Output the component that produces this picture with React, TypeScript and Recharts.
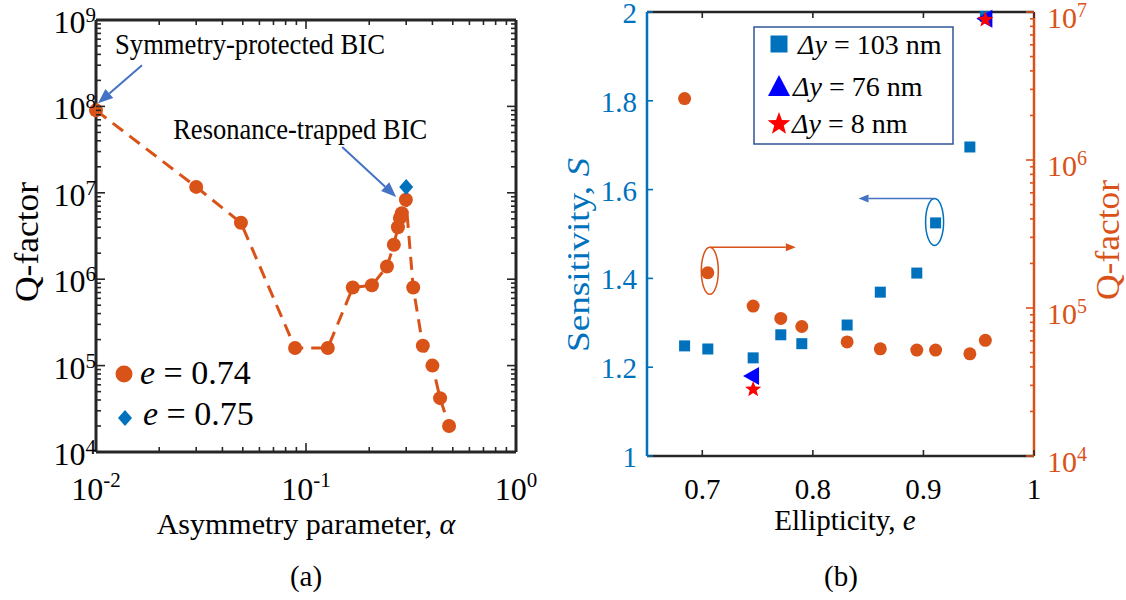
import React from "react";
import { ComposedChart, Line, Scatter, XAxis, YAxis, ReferenceDot } from "recharts";

const FONT = "'Liberation Serif', 'Times New Roman', Times, serif";
const ORANGE = "#D95319";
const BLUE = "#0072BD";
const PURE_BLUE = "#0000FF";
const RED = "#FF0000";
const ARROW_BLUE = "#4472C4";
const AXIS = "#262626";

// panel (a): Q-factor vs asymmetry parameter
const alpha074 = [0.01, 0.03, 0.049, 0.0887, 0.127, 0.167, 0.206, 0.243, 0.262, 0.274, 0.28, 0.286, 0.299, 0.324, 0.36, 0.4, 0.435, 0.48];
const q074 = [9e7, 1.17e7, 4.5e6, 1.6e5, 1.6e5, 8e5, 8.5e5, 1.4e6, 2.5e6, 4e6, 5.1e6, 5.8e6, 8.3e6, 8e5, 1.7e5, 1e5, 4.2e4, 2e4];
const alpha075 = [0.3];
const q075 = [1.17e7];

const aXMajor = [0.01, 0.1, 1];
const aYMajor = [1e4, 1e5, 1e6, 1e7, 1e8, 1e9];

// panel (b): sensitivity and Q-factor vs ellipticity
const eDy103 = [0.684, 0.705, 0.746, 0.771, 0.79, 0.831, 0.861, 0.894, 0.911, 0.942, 0.956];
const sDy103 = [1.248, 1.241, 1.221, 1.273, 1.253, 1.295, 1.369, 1.412, 1.525, 1.696, 1.99];
const eDy76 = [0.745, 0.956];
const sDy76 = [1.18, 1.985];
const eDy8 = [0.746, 0.956];
const sDy8 = [1.15, 1.983];
const eQ = [0.684, 0.705, 0.746, 0.771, 0.79, 0.831, 0.861, 0.894, 0.911, 0.942, 0.956];
const qB = [2.6e6, 1.73e5, 1.03e5, 8.5e4, 7.5e4, 5.9e4, 5.3e4, 5.2e4, 5.2e4, 4.9e4, 6.05e4];

const bXMajor = [0.7, 0.8, 0.9, 1];
const bSMajor = [1, 1.2, 1.4, 1.6, 1.8, 2];
const bQMajor = [1e4, 1e5, 1e6, 1e7];

const zip = (xs: number[], ys: number[]) => xs.map((x, i) => ({ x, y: ys[i] }));

// log axes get minor ticks at 2..9 of every decade
function withMinor(majors: number[]) {
  const out: number[] = [];
  majors.forEach((m, i) => {
    out.push(m);
    if (i < majors.length - 1) for (let k = 2; k <= 9; k++) out.push(+(m * k).toPrecision(6));
  });
  return out;
}

const isMajor = (v: number, majors: number[]) =>
  majors.some((m) => Math.abs(v - m) <= Math.abs(m) * 1e-6);
const pow10 = (v: number) => Math.round(Math.log10(v));

type Side = "bottom" | "top" | "left" | "right";
type LabelFn = (v: number, x: number, y: number) => React.ReactNode;

function tickRenderer(side: Side, majors: number[], color: string, majorLen: number, minorLen: number, label?: LabelFn) {
  return (props: any) => {
    const { x, y, payload } = props;
    const v = payload.value;
    const major = isMajor(v, majors);
    const len = major ? majorLen : minorLen;
    const dx = side === "left" ? len : side === "right" ? -len : 0;
    const dy = side === "bottom" ? -len : side === "top" ? len : 0;
    return (
      <g>
        <line x1={x} y1={y} x2={x + dx} y2={y + dy} stroke={color} strokeWidth={1.6} />
        {major && label ? label(v, x, y) : null}
      </g>
    );
  };
}

const aBottomLabel: LabelFn = (v, x, y) => (
  <text x={x} y={y + 48} textAnchor="middle" fontFamily={FONT} fontSize={32} fill="#000">
    10<tspan dy={-13} fontSize={21}>{pow10(v)}</tspan>
  </text>
);
const aLeftLabel: LabelFn = (v, x, y) => (
  <text x={x} y={y + 13} textAnchor="end" fontFamily={FONT} fontSize={32} fill="#000">
    10<tspan dy={-11} fontSize={21}>{pow10(v)}</tspan>
  </text>
);
const bBottomLabel: LabelFn = (v, x, y) => (
  <text x={x} y={y + 43} textAnchor="middle" fontFamily={FONT} fontSize={29} fill="#000">
    {String(v)}
  </text>
);
const bLeftLabel: LabelFn = (v, x, y) => (
  <text x={x - 10} y={y + 11} textAnchor="end" fontFamily={FONT} fontSize={29} fill={BLUE}>
    {String(v)}
  </text>
);
const bRightLabel: LabelFn = (v, x, y) => (
  <text x={x + 13} y={y + 16} textAnchor="start" fontFamily={FONT} fontSize={30} fill={ORANGE}>
    10<tspan dy={-11} fontSize={20}>{pow10(v)}</tspan>
  </text>
);

function Arrow({ x1, y1, x2, y2, color, head, width, sw }: any) {
  const a = Math.atan2(y2 - y1, x2 - x1);
  const bx = x2 - head * Math.cos(a);
  const by = y2 - head * Math.sin(a);
  const nx = (-Math.sin(a) * width) / 2;
  const ny = (Math.cos(a) * width) / 2;
  return (
    <g>
      <line x1={x1} y1={y1} x2={bx} y2={by} stroke={color} strokeWidth={sw} />
      <polygon points={`${x2},${y2} ${bx + nx},${by + ny} ${bx - nx},${by - ny}`} fill={color} />
    </g>
  );
}

function starPath(cx: number, cy: number, R: number, r: number) {
  const pts: string[] = [];
  for (let i = 0; i < 10; i++) {
    const ang = -Math.PI / 2 + (i * Math.PI) / 5;
    const rad = i % 2 === 0 ? R : r;
    pts.push(`${cx + rad * Math.cos(ang)},${cy + rad * Math.sin(ang)}`);
  }
  return `M${pts.join("L")}Z`;
}

const SymAnnot = ({ cx, cy }: any) => (
  <g>
    <text x={cx + 19} y={cy - 56} fontFamily={FONT} fontSize={29} textLength={270} lengthAdjust="spacingAndGlyphs" fill="#000">
      Symmetry-protected BIC
    </text>
    <Arrow x1={cx + 46} y1={cy - 45} x2={cx + 2} y2={cy - 7} color={ARROW_BLUE} head={15} width={12} sw={2} />
  </g>
);

const ResAnnot = ({ cx, cy }: any) => (
  <g>
    <text x={cx - 233} y={cy - 48} fontFamily={FONT} fontSize={29} textLength={254} lengthAdjust="spacingAndGlyphs" fill="#000">
      Resonance-trapped BIC
    </text>
    <Arrow x1={cx - 64} y1={cy - 40} x2={cx - 10} y2={cy + 10} color={ARROW_BLUE} head={15} width={12} sw={2} />
  </g>
);

function PanelA() {
  const tickProps = { type: "number" as const, scale: "log" as const, interval: 0, tickSize: 0, tickMargin: 0, tickLine: false };
  return (
    <ComposedChart width={560} height={600} margin={{ top: 19, right: 43, bottom: 147, left: 95 }}>
      <XAxis xAxisId="b" dataKey="x" {...tickProps} domain={[0.01, 1]} ticks={withMinor(aXMajor)} height={1}
        axisLine={{ stroke: AXIS, strokeWidth: 3 }} tick={tickRenderer("bottom", aXMajor, AXIS, 9, 5, aBottomLabel)} />
      <XAxis xAxisId="t" dataKey="x" orientation="top" {...tickProps} domain={[0.01, 1]} ticks={withMinor(aXMajor)} height={1}
        axisLine={{ stroke: AXIS, strokeWidth: 3 }} tick={tickRenderer("top", aXMajor, AXIS, 9, 5)} />
      <YAxis yAxisId="l" dataKey="y" {...tickProps} domain={[1e4, 1e9]} ticks={withMinor(aYMajor)} width={1}
        axisLine={{ stroke: AXIS, strokeWidth: 3 }} tick={tickRenderer("left", aYMajor, AXIS, 9, 5, aLeftLabel)} />
      <YAxis yAxisId="r" dataKey="y" orientation="right" {...tickProps} domain={[1e4, 1e9]} ticks={withMinor(aYMajor)} width={1}
        axisLine={{ stroke: AXIS, strokeWidth: 3 }} tick={tickRenderer("right", aYMajor, AXIS, 9, 5)} />
      <Line xAxisId="b" yAxisId="l" data={zip(alpha074, q074)} dataKey="y" type="linear" stroke={ORANGE} strokeWidth={3}
        strokeDasharray="13 8" isAnimationActive={false}
        dot={(p: any) => <circle key={`d${p.index}`} cx={p.cx} cy={p.cy} r={7} fill={ORANGE} />} activeDot={false} />
      <Scatter xAxisId="t" yAxisId="r" data={zip(alpha075, q075)} dataKey="y" isAnimationActive={false}
        shape={(p: any) => (
          <polygon points={`${p.cx},${p.cy - 8} ${p.cx + 7},${p.cy} ${p.cx},${p.cy + 8} ${p.cx - 7},${p.cy}`} fill={BLUE} />
        )} />
      <ReferenceDot xAxisId="b" yAxisId="l" x={alpha074[0]} y={q074[0]} shape={(p: any) => <SymAnnot cx={p.cx} cy={p.cy} />} />
      <ReferenceDot xAxisId="t" yAxisId="r" x={alpha075[0]} y={q075[0]} shape={(p: any) => <ResAnnot cx={p.cx} cy={p.cy} />} />
    </ComposedChart>
  );
}

function PanelB() {
  const base = { type: "number" as const, interval: 0, tickSize: 0, tickMargin: 0, tickLine: false };
  return (
    <ComposedChart width={586} height={600} margin={{ top: 11, right: 91, bottom: 143, left: 106 }}>
      <XAxis xAxisId="b" dataKey="x" {...base} domain={[0.65, 1]} ticks={bXMajor} height={1}
        axisLine={{ stroke: AXIS, strokeWidth: 2.5 }} tick={tickRenderer("bottom", bXMajor, AXIS, 6, 6, bBottomLabel)} />
      <XAxis xAxisId="t" dataKey="x" orientation="top" {...base} domain={[0.65, 1]} ticks={bXMajor} height={1}
        axisLine={{ stroke: AXIS, strokeWidth: 2.5 }} tick={tickRenderer("top", bXMajor, AXIS, 6, 6)} />
      <YAxis yAxisId="s" dataKey="y" {...base} domain={[1, 2]} ticks={bSMajor} width={1}
        axisLine={{ stroke: BLUE, strokeWidth: 2.5 }} tick={tickRenderer("left", bSMajor, BLUE, 6, 6, bLeftLabel)} />
      <YAxis yAxisId="q" dataKey="y" orientation="right" {...base} scale="log" domain={[1e4, 1e7]} ticks={withMinor(bQMajor)} width={1}
        axisLine={{ stroke: ORANGE, strokeWidth: 2.5 }} tick={tickRenderer("right", bQMajor, ORANGE, 8, 4, bRightLabel)} />
      <Scatter xAxisId="b" yAxisId="s" data={zip(eDy103, sDy103)} dataKey="y" isAnimationActive={false}
        shape={(p: any) => <rect x={p.cx - 5.5} y={p.cy - 5.5} width={11} height={11} fill={BLUE} />} />
      <Scatter xAxisId="b" yAxisId="q" data={zip(eQ, qB)} dataKey="y" isAnimationActive={false}
        shape={(p: any) => <circle cx={p.cx} cy={p.cy} r={6.5} fill={ORANGE} />} />
      <Scatter xAxisId="b" yAxisId="s" data={zip(eDy76, sDy76)} dataKey="y" isAnimationActive={false}
        shape={(p: any) => (
          <polygon points={`${p.cx - 9},${p.cy} ${p.cx + 7},${p.cy - 9} ${p.cx + 7},${p.cy + 9}`} fill={PURE_BLUE} />
        )} />
      <Scatter xAxisId="t" yAxisId="s" data={zip(eDy8, sDy8)} dataKey="y" isAnimationActive={false}
        shape={(p: any) => <path d={starPath(p.cx, p.cy, 8.5, 3.6)} fill={RED} />} />
      <ReferenceDot xAxisId="b" yAxisId="q" x={eQ[1]} y={qB[1]} shape={(p: any) => (
        <g>
          <ellipse cx={p.cx + 2} cy={p.cy - 2} rx={8.5} ry={23.5} fill="none" stroke={ORANGE} strokeWidth={1.5} />
          <Arrow x1={p.cx + 2} y1={p.cy - 25.5} x2={p.cx + 88} y2={p.cy - 25.5} color={ORANGE} head={10} width={8} sw={1.5} />
        </g>
      )} />
      <ReferenceDot xAxisId="b" yAxisId="s" x={eDy103[8]} y={sDy103[8]} shape={(p: any) => (
        <g>
          <ellipse cx={p.cx - 1} cy={p.cy - 1} rx={9} ry={23.5} fill="none" stroke={BLUE} strokeWidth={1.5} />
          <Arrow x1={p.cx - 1} y1={p.cy - 24.5} x2={p.cx - 77} y2={p.cy - 24.5} color={ARROW_BLUE} head={10} width={8} sw={1.5} />
        </g>
      )} />
    </ComposedChart>
  );
}

function Overlay() {
  return (
    <svg width={1126} height={600} style={{ position: "absolute", left: 0, top: 0, pointerEvents: "none" }} fontFamily={FONT}>
      {/* panel (a) titles */}
      <text transform="translate(38,242) rotate(-90)" textAnchor="middle" fontSize={33} textLength={120} lengthAdjust="spacingAndGlyphs" fill="#000">
        Q-factor
      </text>
      <text x={306} y={534} textAnchor="middle" fontSize={30} fill="#000">
        Asymmetry parameter, <tspan fontStyle="italic">α</tspan>
      </text>
      <text x={306} y={586} textAnchor="middle" fontSize={29} fill="#000">(a)</text>
      {/* panel (a) legend */}
      <circle cx={124} cy={374} r={8.5} fill={ORANGE} />
      <text x={140} y={384} fontSize={34} fill="#000">
        <tspan fontStyle="italic">e</tspan> = 0.74
      </text>
      <polygon points="125,410 132,418 125,426 118,418" fill={BLUE} />
      <text x={143} y={425} fontSize={34} fill="#000">
        <tspan fontStyle="italic">e</tspan> = 0.75
      </text>

      {/* panel (b) titles */}
      <text transform="translate(589,255) rotate(-90)" textAnchor="middle" fontSize={31} textLength={194} lengthAdjust="spacingAndGlyphs" fill={BLUE}>
        Sensitivity, <tspan fontStyle="italic">S</tspan>
      </text>
      <text transform="translate(1119,240) rotate(-90)" textAnchor="middle" fontSize={33} textLength={120} lengthAdjust="spacingAndGlyphs" fill={ORANGE}>
        Q-factor
      </text>
      <text x={845} y={530} textAnchor="middle" fontSize={29} fill="#000">
        Ellipticity, <tspan fontStyle="italic">e</tspan>
      </text>
      <text x={841} y={586} textAnchor="middle" fontSize={29} fill="#000">(b)</text>
      {/* panel (b) legend */}
      <rect x={754} y={27} width={199} height={117} fill="#fff" stroke="#2F5597" strokeWidth={1.5} />
      <rect x={770.5} y={35.5} width={17} height={17} fill={BLUE} />
      <text x={798} y={54} fontSize={28} fill="#000">
        <tspan fontStyle="italic">Δy</tspan> = 103 nm
      </text>
      <polygon points="779,75 790,96 768,96" fill={PURE_BLUE} />
      <text x={793} y={96} fontSize={28} fill="#000">
        <tspan fontStyle="italic">Δy</tspan> = 76 nm
      </text>
      <path d={starPath(779, 124, 12, 5)} fill={RED} />
      <text x={792} y={133} fontSize={28} fill="#000">
        <tspan fontStyle="italic">Δy</tspan> = 8 nm
      </text>
    </svg>
  );
}

export default function App() {
  return (
    <div style={{ position: "relative", width: 1126, height: 600, background: "#fff", fontFamily: FONT }}>
      <style>{`body{margin:0}`}</style>
      <div style={{ position: "absolute", left: 0, top: 0 }}>
        <PanelA />
      </div>
      <div style={{ position: "absolute", left: 540, top: 0 }}>
        <PanelB />
      </div>
      <Overlay />
    </div>
  );
}
